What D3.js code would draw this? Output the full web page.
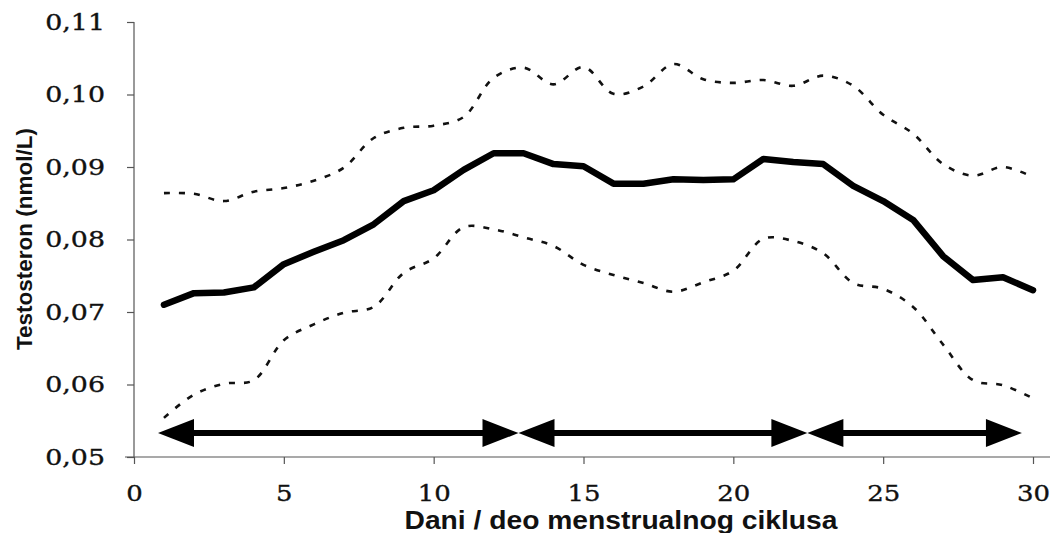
<!DOCTYPE html>
<html>
<head>
<meta charset="utf-8">
<script src="https://cdn.jsdelivr.net/npm/d3@7"></script>
<style>
  body { margin: 0; background: #fff; }
  .tick text { font-family: "DejaVu Serif", serif; font-size: 22px; fill: #111; stroke: #111; stroke-width: 0.35px; }
  .axis path, .axis line { stroke: #555; stroke-width: 1.2px; }
  .title { font-family: "Liberation Sans", Arial, sans-serif; font-weight: bold; fill: #111; }
</style>
</head>
<body>
<svg id="chart" width="1055" height="533"></svg>
<script>
// Dani ciklusa
const days = d3.range(1, 31);

// Srednja vrednost
const meanValues = [0.0710, 0.0726, 0.0727, 0.0734, 0.0766, 0.0783, 0.0799, 0.0821, 0.0853, 0.0868,
                    0.0896, 0.0919, 0.0919, 0.0904, 0.0901, 0.0877, 0.0877, 0.0883, 0.0882, 0.0883,
                    0.0911, 0.0907, 0.0904, 0.0874, 0.0853, 0.0827, 0.0777, 0.0744, 0.0748, 0.0730];

// Gornja granica
const upperValues = [0.0864, 0.0863, 0.0853, 0.0866, 0.0871, 0.0881, 0.0899, 0.0940, 0.0954, 0.0957,
                     0.0969, 0.1023, 0.1037, 0.1014, 0.1038, 0.1001, 0.1011, 0.1042, 0.1021, 0.1016,
                     0.1020, 0.1012, 0.1026, 0.1012, 0.0972, 0.0946, 0.0904, 0.0888, 0.0900, 0.0886];

// Donja granica
const lowerValues = [0.0554, 0.0586, 0.0601, 0.0606, 0.0661, 0.0683, 0.0699, 0.0707, 0.0754, 0.0774,
                     0.0817, 0.0814, 0.0803, 0.0791, 0.0765, 0.0751, 0.0740, 0.0728, 0.0741, 0.0757,
                     0.0801, 0.0798, 0.0781, 0.0740, 0.0732, 0.0707, 0.0655, 0.0606, 0.0599, 0.0581];

// Faze ciklusa (strelice)
const phaseStart = [0.8, 12.83, 22.47];
const phaseEnd = [12.83, 22.47, 29.63];
const phaseLevel = 0.0533;

const xTicks = [0, 5, 10, 15, 20, 25, 30];
const yTicks = [0.05, 0.06, 0.07, 0.08, 0.09, 0.10, 0.11];

const svg = d3.select('#chart');
const margin = { top: 22, right: 22, bottom: 76, left: 134 };

const x = d3.scaleLinear().domain([0, 30]).range([margin.left, 1033]);
const y = d3.scaleLinear().domain([0.05, 0.11]).range([457, margin.top]);

const fmt = d => d3.format('.2f')(d).replace('.', ',');

// razvuci tekst horizontalno (original je razvucen)
const stretch = (sel, k) => sel.each(function () {
    const w = this.getComputedTextLength();
    d3.select(this).attr('textLength', w * k).attr('lengthAdjust', 'spacingAndGlyphs');
});

// Y osa
svg.append('g')
    .attr('class', 'axis')
    .attr('transform', 'translate(' + margin.left + ',0)')
    .call(d3.axisLeft(y).tickValues(yTicks).tickFormat(fmt).tickSize(7).tickSizeOuter(0).tickPadding(22))
    .call(g => g.select('.domain').remove())
    .call(g => g.append('line')
        .attr('x1', 0).attr('x2', 0)
        .attr('y1', y(0.11)).attr('y2', y(0.05))
        .attr('stroke', '#555').attr('stroke-width', 1.2))
    .call(g => stretch(g.selectAll('text'), 1.22));

// X osa
svg.append('g')
    .attr('class', 'axis')
    .attr('transform', 'translate(0,' + y(0.05) + ')')
    .call(d3.axisBottom(x).tickValues(xTicks).tickFormat(d3.format('d')).tickSize(7).tickPadding(21))
    .call(g => g.select('.domain').remove())
    .call(g => g.append('line')
        .attr('x1', 125).attr('x2', 1050)
        .attr('stroke', '#555').attr('stroke-width', 1.2))
    .call(g => stretch(g.selectAll('text'), 1.18));

// Linije
const line = d3.line()
    .x((d, i) => x(days[i]))
    .y(d => y(d));

svg.append('path')
    .datum(upperValues)
    .attr('fill', 'none')
    .attr('stroke', '#111')
    .attr('stroke-width', 2.6)
    .attr('stroke-dasharray', '6,9')
    .attr('d', line.curve(d3.curveCatmullRom));

svg.append('path')
    .datum(lowerValues)
    .attr('fill', 'none')
    .attr('stroke', '#111')
    .attr('stroke-width', 2.6)
    .attr('stroke-dasharray', '6,9')
    .attr('d', line.curve(d3.curveCatmullRom));

svg.append('path')
    .datum(meanValues)
    .attr('fill', 'none')
    .attr('stroke', '#000')
    .attr('stroke-width', 6.5)
    .attr('stroke-linejoin', 'round')
    .attr('stroke-linecap', 'round')
    .attr('d', line.curve(d3.curveLinear));

// Strelice
const headLen = 36, headHalf = 14;
const arrows = svg.append('g');
phaseStart.forEach((s, i) => {
    const x1 = x(s), x2 = x(phaseEnd[i]), yy = y(phaseLevel);
    arrows.append('line')
        .attr('x1', x1 + headLen - 2).attr('x2', x2 - headLen + 2)
        .attr('y1', yy).attr('y2', yy)
        .attr('stroke', '#000').attr('stroke-width', 6);
    arrows.append('path')
        .attr('d', 'M' + x1 + ',' + yy + 'L' + (x1 + headLen) + ',' + (yy - headHalf) + 'L' + (x1 + headLen) + ',' + (yy + headHalf) + 'Z')
        .attr('fill', '#000');
    arrows.append('path')
        .attr('d', 'M' + x2 + ',' + yy + 'L' + (x2 - headLen) + ',' + (yy - headHalf) + 'L' + (x2 - headLen) + ',' + (yy + headHalf) + 'Z')
        .attr('fill', '#000');
});

// Naslovi osa
svg.append('text')
    .attr('class', 'title')
    .attr('x', 621).attr('y', 529)
    .attr('text-anchor', 'middle')
    .style('font-size', '25px')
    .text('Dani / deo menstrualnog ciklusa')
    .call(t => t.attr('textLength', 433).attr('lengthAdjust', 'spacingAndGlyphs'));

svg.append('text')
    .attr('class', 'title')
    .attr('transform', 'translate(32,239) rotate(-90)')
    .attr('text-anchor', 'middle')
    .style('font-size', '22px')
    .text('Testosteron (nmol/L)')
    .call(t => t.attr('textLength', 222).attr('lengthAdjust', 'spacingAndGlyphs'));
</script>
</body>
</html>
